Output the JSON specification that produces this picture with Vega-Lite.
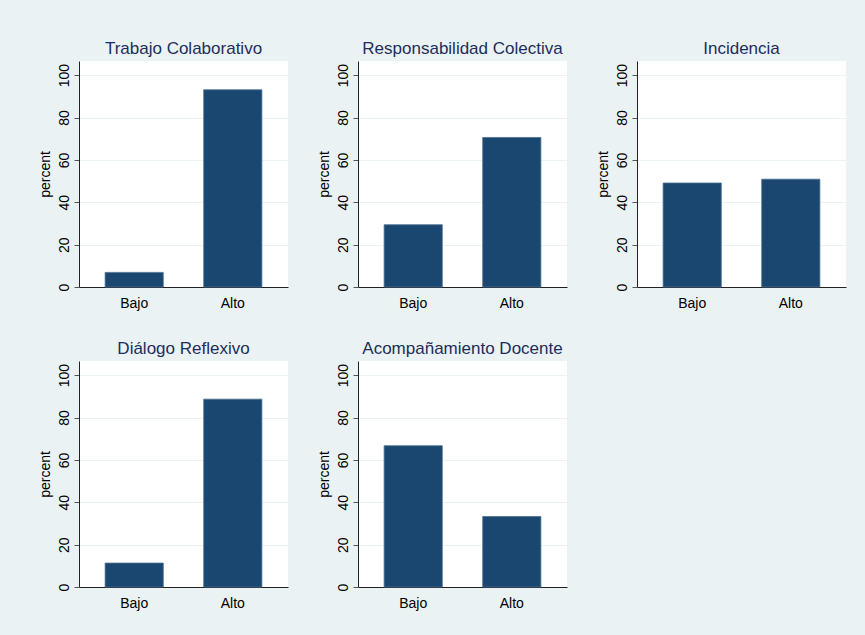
{
  "$schema": "https://vega.github.io/schema/vega-lite/v6.json",
  "background": "#EAF2F3",
  "padding": {"left": 38, "top": 40, "right": 20, "bottom": 28},
  "data": {"values": [
    {"panel": "Trabajo Colaborativo", "cat": "Bajo", "pct": 6.9},
    {"panel": "Trabajo Colaborativo", "cat": "Alto", "pct": 93.1},
    {"panel": "Responsabilidad Colectiva", "cat": "Bajo", "pct": 29.4},
    {"panel": "Responsabilidad Colectiva", "cat": "Alto", "pct": 70.6},
    {"panel": "Incidencia", "cat": "Bajo", "pct": 49.1},
    {"panel": "Incidencia", "cat": "Alto", "pct": 50.9},
    {"panel": "Diálogo Reflexivo", "cat": "Bajo", "pct": 11.3},
    {"panel": "Diálogo Reflexivo", "cat": "Alto", "pct": 88.7},
    {"panel": "Acompañamiento Docente", "cat": "Bajo", "pct": 66.7},
    {"panel": "Acompañamiento Docente", "cat": "Alto", "pct": 33.3}
  ]},
  "columns": 3,
  "spacing": {"column": 70, "row": 74},
  "bounds": "flush",
  "config": {
    "font": "Liberation Sans",
    "view": {"stroke": null, "fill": "white"},
    "title": {"fontSize": 17, "fontWeight": "normal", "color": "#1E2D5C", "anchor": "middle", "offset": 3, "font": "Liberation Sans"},
    "axis": {"labelFont": "Liberation Sans", "titleFont": "Liberation Sans", "labelColor": "#000000", "titleColor": "#000000", "labelFontSize": 14, "titleFontSize": 14, "titleFontWeight": "normal", "domainColor": "#222222", "tickColor": "#555555"},
    "bar": {"color": "#1A476F", "stroke": "#4A6E93", "strokeWidth": 0.8}
  },
  "concat": [
    {
      "title": "Trabajo Colaborativo",
      "width": 209, "height": 226,
      "transform": [{"filter": "datum.panel === 'Trabajo Colaborativo'"}],
      "mark": "bar",
      "encoding": {
        "x": {"field": "cat", "type": "nominal", "sort": ["Bajo", "Alto"], "scale": {"paddingInner": 0.41, "paddingOuter": 0.265}, "axis": {"title": null, "labelAngle": 0, "ticks": false, "labelPadding": 9, "grid": false}},
        "y": {"field": "pct", "type": "quantitative", "scale": {"domain": [0, 106.7], "nice": false}, "axis": {"title": "percent", "values": [0, 20, 40, 60, 80, 100], "labelAngle": -90, "tickSize": 5, "labelPadding": 3, "titlePadding": 5, "grid": true, "gridColor": "#EAF2F3", "gridWidth": 1.2}}
      }
    },
    {
      "title": "Responsabilidad Colectiva",
      "width": 209, "height": 226,
      "transform": [{"filter": "datum.panel === 'Responsabilidad Colectiva'"}],
      "mark": "bar",
      "encoding": {
        "x": {"field": "cat", "type": "nominal", "sort": ["Bajo", "Alto"], "scale": {"paddingInner": 0.41, "paddingOuter": 0.265}, "axis": {"title": null, "labelAngle": 0, "ticks": false, "labelPadding": 9, "grid": false}},
        "y": {"field": "pct", "type": "quantitative", "scale": {"domain": [0, 106.7], "nice": false}, "axis": {"title": "percent", "values": [0, 20, 40, 60, 80, 100], "labelAngle": -90, "tickSize": 5, "labelPadding": 3, "titlePadding": 5, "grid": true, "gridColor": "#EAF2F3", "gridWidth": 1.2}}
      }
    },
    {
      "title": "Incidencia",
      "width": 209, "height": 226,
      "transform": [{"filter": "datum.panel === 'Incidencia'"}],
      "mark": "bar",
      "encoding": {
        "x": {"field": "cat", "type": "nominal", "sort": ["Bajo", "Alto"], "scale": {"paddingInner": 0.41, "paddingOuter": 0.265}, "axis": {"title": null, "labelAngle": 0, "ticks": false, "labelPadding": 9, "grid": false}},
        "y": {"field": "pct", "type": "quantitative", "scale": {"domain": [0, 106.7], "nice": false}, "axis": {"title": "percent", "values": [0, 20, 40, 60, 80, 100], "labelAngle": -90, "tickSize": 5, "labelPadding": 3, "titlePadding": 5, "grid": true, "gridColor": "#EAF2F3", "gridWidth": 1.2}}
      }
    },
    {
      "title": "Diálogo Reflexivo",
      "width": 209, "height": 226,
      "transform": [{"filter": "datum.panel === 'Diálogo Reflexivo'"}],
      "mark": "bar",
      "encoding": {
        "x": {"field": "cat", "type": "nominal", "sort": ["Bajo", "Alto"], "scale": {"paddingInner": 0.41, "paddingOuter": 0.265}, "axis": {"title": null, "labelAngle": 0, "ticks": false, "labelPadding": 9, "grid": false}},
        "y": {"field": "pct", "type": "quantitative", "scale": {"domain": [0, 106.7], "nice": false}, "axis": {"title": "percent", "values": [0, 20, 40, 60, 80, 100], "labelAngle": -90, "tickSize": 5, "labelPadding": 3, "titlePadding": 5, "grid": true, "gridColor": "#EAF2F3", "gridWidth": 1.2}}
      }
    },
    {
      "title": "Acompañamiento Docente",
      "width": 209, "height": 226,
      "transform": [{"filter": "datum.panel === 'Acompañamiento Docente'"}],
      "mark": "bar",
      "encoding": {
        "x": {"field": "cat", "type": "nominal", "sort": ["Bajo", "Alto"], "scale": {"paddingInner": 0.41, "paddingOuter": 0.265}, "axis": {"title": null, "labelAngle": 0, "ticks": false, "labelPadding": 9, "grid": false}},
        "y": {"field": "pct", "type": "quantitative", "scale": {"domain": [0, 106.7], "nice": false}, "axis": {"title": "percent", "values": [0, 20, 40, 60, 80, 100], "labelAngle": -90, "tickSize": 5, "labelPadding": 3, "titlePadding": 5, "grid": true, "gridColor": "#EAF2F3", "gridWidth": 1.2}}
      }
    }
  ]
}
